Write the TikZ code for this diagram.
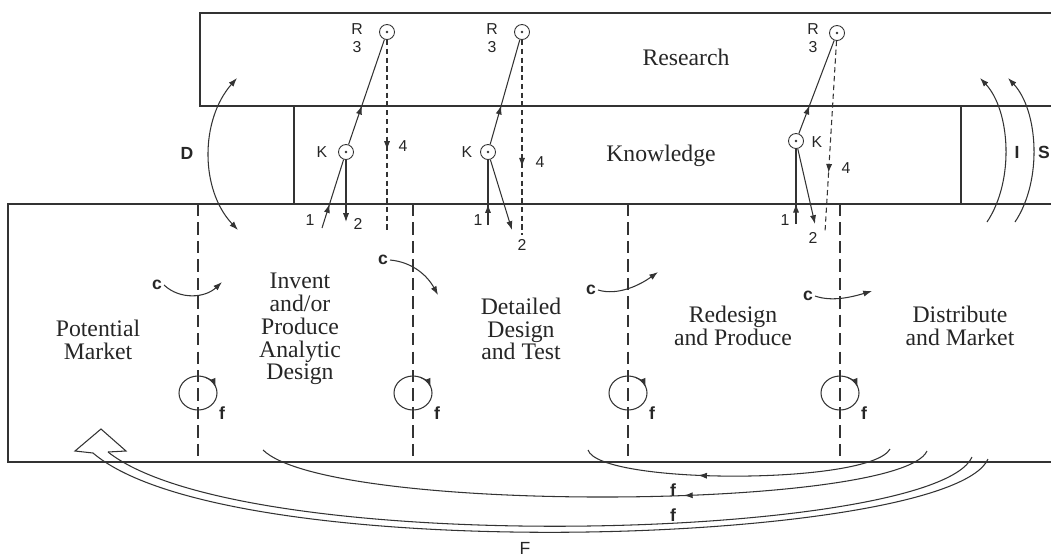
\documentclass[tikz,border=0pt]{standalone}
\usepackage{fontspec}
\setmainfont{Liberation Serif}
\setsansfont{Liberation Sans}
\usepackage{tikz}
\usetikzlibrary{arrows.meta, positioning, calc, decorations.markings}
\usepackage{xcolor}
\tikzstyle{stage} = [align=center, font=\fontsize{13.5}{13}\selectfont, inner sep=0pt]
\tikzstyle{band} = [line width=1.2pt, draw=black!80]
\tikzstyle{divider} = [line width=1.1pt, draw=black!80, dash pattern=on 7pt off 3.5pt]
\tikzstyle{hub} = [circle, draw=black!80, line width=0.5pt, minimum size=0.3cm, inner sep=0pt, path picture={\fill[black!80] (path picture bounding box.center) circle (0.8pt);}]
\tikzstyle{lab} = [font=\sffamily\fontsize{9}{10}\selectfont, inner sep=1pt, align=center]
\tikzstyle{blab} = [font=\sffamily\bfseries\fontsize{10}{10}\selectfont, inner sep=1pt]
\tikzstyle{link} = [line width=0.6pt, draw=black!80]
\tikzstyle{arrow} = [link, -{Latex[length=5pt,width=3.5pt]}]
\tikzset{midarrow/.style={postaction={decorate}, decoration={markings, mark=at position #1 with {\arrow{Latex[length=5pt,width=3.5pt]}}}}}

\begin{document}
\begin{tikzpicture}[x=0.02cm, y=-0.02cm, every node/.style={text=black!85}]
    \useasboundingbox (0,0) rectangle (1051,559);
    \clip (0,0) rectangle (1051,559);

    \draw [band] (200,13) rectangle (1070,106);
    \draw [band] (294,106) -- (294,204);
    \draw [band] (961,106) -- (961,204);
    \draw [band] (8,204) rectangle (1070,462);

    \node (res) at (686,57) [stage] {Research};
    \node (know) at (661,156) [stage] {Knowledge};
    \node (market) at (98,340) [stage] {Potential\\Market};
    \node (invent) at (300,329) [stage] {Invent\\and/or\\Produce\\Analytic\\Design};
    \node (detail) at (521,329) [stage] {Detailed\\Design\\and Test};
    \node (redesign) at (733,326) [stage] {Redesign\\and Produce};
    \node (distrib) at (960,326) [stage] {Distribute\\and Market};

    \node (r1) at (387,32) [hub] {};
    \node (r2) at (522,32) [hub] {};
    \node (r3) at (837,33) [hub] {};
    \node (k1) at (346,152) [hub] {};
    \node (k2) at (488,152) [hub] {};
    \node (k3) at (796,141) [hub] {};

    \node (r1n) at (357,38) [lab] {R\\3};
    \node (r2n) at (492,38) [lab] {R\\3};
    \node (r3n) at (813,38) [lab] {R\\3};
    \node (k1n) at (322,152) [lab] {K};
    \node (k2n) at (467,152) [lab] {K};
    \node (k3n) at (817,142) [lab] {K};

    \coordinate (one1) at (322,228);
    \coordinate (one2) at (488,225);
    \coordinate (one3) at (796,224);
    \coordinate (two1) at (346,222);
    \coordinate (two2) at (512,230);
    \coordinate (two3) at (815,224);
    \coordinate (four1) at (387,233);
    \coordinate (four2) at (522,235);
    \coordinate (four3) at (825,232);

    \node (n11) at (310,220) [lab] {1};
    \node (n12) at (478,220) [lab] {1};
    \node (n13) at (785,220) [lab] {1};
    \node (n21) at (358,224) [lab] {2};
    \node (n22) at (522,245) [lab] {2};
    \node (n23) at (813,238) [lab] {2};
    \node (n41) at (403,146) [lab] {4};
    \node (n42) at (540,162) [lab] {4};
    \node (n43) at (846,168) [lab] {4};

    \foreach \i/\p/\q/\s in {1/0.35/0.37/0.57, 2/0.32/0.37/0.65, 3/0.27/0.30/0.69} {
        \draw [link, midarrow=\p] (one\i) -- (k\i);
        \draw [link, midarrow=\q] (k\i) -- (r\i);
        \draw [arrow] (k\i) -- (two\i);
        \draw [link, dash pattern=on 3pt off 2pt, midarrow=\s] (r\i) -- (four\i);
    }

    \coordinate (dtop) at (237,78);
    \coordinate (dbot) at (238,230);
    \draw [link, {Latex[length=5pt,width=3.5pt]}-{Latex[length=5pt,width=3.5pt]}] (dtop) .. controls (200,120) and (200,190) .. (dbot);
    \node (dlab) at (187,153) [blab] {D};

    \coordinate (i1s) at (987,222);
    \coordinate (i1e) at (980,78);
    \coordinate (i2s) at (1015,222);
    \coordinate (i2e) at (1008,78);
    \draw [arrow] (i1s) .. controls (1015,180) and (1010,110) .. (i1e);
    \draw [arrow] (i2s) .. controls (1043,180) and (1038,110) .. (i2e);
    \node (ilab) at (1017,152) [blab] {I};
    \node (slab) at (1044,152) [blab, inner sep=0pt] {S};

    \foreach \x/\n in {198/1, 413/2, 628/3, 840/4} {
        \draw [divider] (\x,204) -- (\x,462);
        \coordinate (fc\n) at (\x,393);
        \draw [link] (fc\n) ellipse [x radius=19, y radius=17];
        \draw [arrow] ($(fc\n)+(-68:19 and 17)$) arc [start angle=-68, end angle=-20, x radius=19, y radius=17];
        \node (f\n) at (\x+24,413) [blab] {f};
    }

    \node (c1) at (157,285) [blab] {c};
    \node (c2) at (383,260) [blab] {c};
    \node (c3) at (591,290) [blab] {c};
    \node (c4) at (808,296) [blab] {c};
    \coordinate (c1e) at (222,282);
    \coordinate (c2e) at (438,295);
    \coordinate (c3e) at (658,272);
    \coordinate (c4e) at (872,291);
    \draw [arrow] (c1.east) .. controls (180,300) and (205,298) .. (c1e);
    \draw [arrow] (c2.east) .. controls (412,262) and (427,275) .. (c2e);
    \draw [arrow] (c3.east) .. controls (618,296) and (640,285) .. (c3e);
    \draw [arrow] (c4.east) .. controls (832,302) and (852,297) .. (c4e);

    \coordinate (fa1s) at (890,449);
    \coordinate (fa1e) at (588,450);
    \coordinate (fa2s) at (927,451);
    \coordinate (fa2e) at (263,450);
    \draw [link, midarrow=0.63] (fa1s) .. controls (870,485) and (600,485) .. (fa1e);
    \draw [link, midarrow=0.37] (fa2s) .. controls (900,510) and (330,515) .. (fa2e);
    \node (fb1) at (673,490) [blab] {f};
    \node (fb2) at (673,515) [blab] {f};

    \coordinate (fos) at (988,459);
    \coordinate (foe) at (93,453);
    \coordinate (fis) at (972,457);
    \coordinate (fie) at (108,452);
    \coordinate (ftip) at (101,429);
    \draw [link] (fos) .. controls (950,545) and (230,570) .. (foe);
    \draw [link] (fis) .. controls (935,540) and (245,560) .. (fie);
    \draw [link] (foe) -- (75,451) -- (ftip) -- (126,451) -- (fie);
    \node (flab) at (525,548) [lab, font=\sffamily\fontsize{10}{10}\selectfont] {F};
\end{tikzpicture}
\end{document}
